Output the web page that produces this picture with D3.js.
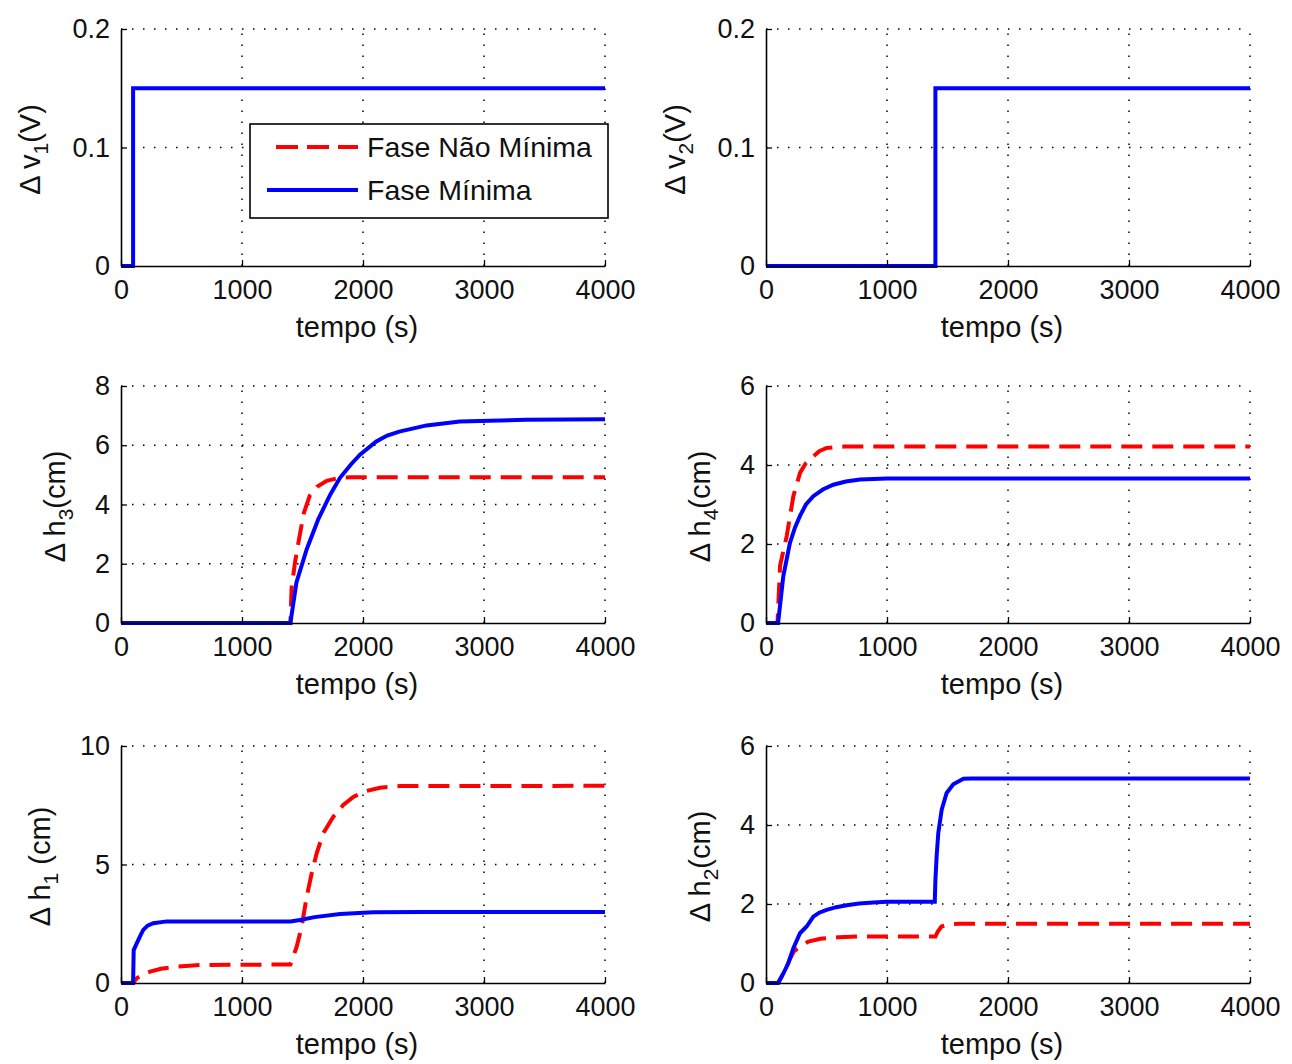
<!DOCTYPE html>
<html>
<head>
<meta charset="utf-8">
<script src="https://cdn.jsdelivr.net/npm/d3@7"></script>
<style>
  html, body { margin: 0; padding: 0; background: #fff; }
  svg { display: block; }
  text { font-family: "Liberation Sans", Arial, Helvetica, sans-serif; fill: #111; }
</style>
</head>
<body>
<div id="chart"></div>
<script>
// ---------------- DATA ----------------
const seriesNames = ["Fase Não Mínima", "Fase Mínima"];
const xTicks = [0, 1000, 2000, 3000, 4000];
const xLabel = "tempo (s)";

const vTicks = [0, 0.1, 0.2];
const h3Ticks = [0, 2, 4, 6, 8];
const h4Ticks = [0, 2, 4, 6];
const h1Ticks = [0, 5, 10];
const h2Ticks = [0, 2, 4, 6];

// Δv1 (input 1)
const v1Time = [0, 100, 100, 4000];
const v1Min  = [0, 0, 0.15, 0.15];

// Δv2 (input 2)
const v2Time = [0, 1400, 1400, 4000];
const v2Min  = [0, 0, 0.15, 0.15];

// Δh3
const h3NmpTime = [0, 1400, 1410, 1440, 1470, 1510, 1560, 1620, 1700, 1800, 1900, 4000];
const h3NmpVal  = [0, 0, 1.2, 2.1, 2.8, 3.7, 4.3, 4.6, 4.8, 4.9, 4.92, 4.92];
const h3MinTime = [0, 1400, 1450, 1535, 1630, 1730, 1810, 1900, 1975, 2110, 2200, 2300, 2525, 2800, 3350, 4000];
const h3MinVal  = [0, 0, 1.37, 2.49, 3.5, 4.34, 4.9, 5.35, 5.68, 6.13, 6.33, 6.46, 6.67, 6.8, 6.86, 6.88];

// Δh4
const h4NmpTime = [0, 95, 116, 171, 226, 281, 330, 391, 440, 501, 650, 4000];
const h4NmpVal  = [0, 0, 1.45, 2.2, 3.21, 3.8, 4.05, 4.22, 4.35, 4.43, 4.47, 4.47];
const h4MinTime = [0, 100, 143, 198, 240, 281, 330, 391, 470, 556, 660, 777, 1000, 4000];
const h4MinVal  = [0, 0, 1.19, 2.03, 2.42, 2.71, 3.0, 3.21, 3.38, 3.5, 3.58, 3.63, 3.66, 3.66];

// Δh1
const h1NmpTime = [0, 100, 130, 180, 240, 330, 460, 653, 1400, 1452, 1493, 1535, 1576, 1617, 1672, 1755, 1837, 1920, 2003, 2140, 2306, 4000];
const h1NmpVal  = [0, 0, 0.2, 0.35, 0.48, 0.6, 0.69, 0.76, 0.78, 1.53, 2.38, 3.64, 4.63, 5.47, 6.32, 7.02, 7.51, 7.85, 8.07, 8.24, 8.31, 8.32];
const h1MinTime = [0, 100, 105, 130, 160, 184, 220, 267, 378, 1400, 1479, 1600, 1810, 2085, 2500, 4000];
const h1MinVal  = [0, 0, 1.39, 1.67, 2.0, 2.24, 2.42, 2.52, 2.6, 2.6, 2.66, 2.78, 2.91, 2.98, 3.0, 3.0];

// Δh2
const h2NmpTime = [0, 100, 150, 200, 230, 260, 300, 350, 450, 600, 800, 1400, 1420, 1450, 1500, 1600, 4000];
const h2NmpVal  = [0, 0, 0.27, 0.62, 0.8, 0.87, 0.95, 1.05, 1.12, 1.16, 1.18, 1.18, 1.3, 1.43, 1.48, 1.5, 1.5];
const h2MinTime = [0, 100, 143, 184, 226, 281, 336, 391, 440, 501, 580, 667, 770, 887, 1000, 1395, 1400, 1410, 1424, 1452, 1493, 1548, 1631, 1700, 4000];
const h2MinVal  = [0, 0, 0.24, 0.5, 0.88, 1.26, 1.43, 1.68, 1.78, 1.85, 1.92, 1.97, 2.01, 2.04, 2.06, 2.06, 2.6, 3.2, 3.8, 4.39, 4.81, 5.03, 5.17, 5.18, 5.18];

// ---------------- LAYOUT / STYLE ----------------
const W = 1292, H = 1064;
const colX = [121, 766];
const rowY = [29, 386, 746];
const plotW = 484, plotH = 237;
const TICK_FONT = 27;
const LABEL_FONT = 29;
const LEGEND_FONT = 28.5;

const styles = {
  nmp: { color: "#ff0000", width: 4, dash: "21,10" },
  min: { color: "#0000ff", width: 4, dash: null }
};

const zip = (t, v) => t.map((d, i) => [d, v[i]]);

const panels = [
  { col: 0, row: 0, domain: [0, 0.2], ticks: vTicks, sym: "v", sub: "1", unit: "(V)", labelX: 40,
    series: [{ kind: "min", data: zip(v1Time, v1Min) }], legend: true },
  { col: 1, row: 0, domain: [0, 0.2], ticks: vTicks, sym: "v", sub: "2", unit: "(V)", labelX: 685,
    series: [{ kind: "min", data: zip(v2Time, v2Min) }] },
  { col: 0, row: 1, domain: [0, 8], ticks: h3Ticks, sym: "h", sub: "3", unit: "(cm)", labelX: 65,
    series: [{ kind: "nmp", data: zip(h3NmpTime, h3NmpVal) }, { kind: "min", data: zip(h3MinTime, h3MinVal) }] },
  { col: 1, row: 1, domain: [0, 6], ticks: h4Ticks, sym: "h", sub: "4", unit: "(cm)", labelX: 710,
    series: [{ kind: "nmp", data: zip(h4NmpTime, h4NmpVal) }, { kind: "min", data: zip(h4MinTime, h4MinVal) }] },
  { col: 0, row: 2, domain: [0, 10], ticks: h1Ticks, sym: "h", sub: "1", unit: " (cm)", labelX: 50,
    series: [{ kind: "nmp", data: zip(h1NmpTime, h1NmpVal) }, { kind: "min", data: zip(h1MinTime, h1MinVal) }] },
  { col: 1, row: 2, domain: [0, 6], ticks: h2Ticks, sym: "h", sub: "2", unit: "(cm)", labelX: 710,
    series: [{ kind: "nmp", data: zip(h2NmpTime, h2NmpVal) }, { kind: "min", data: zip(h2MinTime, h2MinVal) }] }
];

// ---------------- DRAW ----------------
const svg = d3.select("#chart").append("svg")
  .attr("width", W).attr("height", H)
  .attr("viewBox", `0 0 ${W} ${H}`);
svg.append("rect").attr("width", W).attr("height", H).attr("fill", "#fff");

const fmt = d3.format("~g");

panels.forEach(p => {
  const x0 = colX[p.col], y0 = rowY[p.row];
  const x = d3.scaleLinear().domain([0, 4000]).range([0, plotW]);
  const y = d3.scaleLinear().domain(p.domain).range([plotH, 0]);
  const g = svg.append("g").attr("transform", `translate(${x0},${y0})`);

  // grid (dotted)
  const grid = g.append("g").attr("stroke", "#000").attr("stroke-width", 1.5)
    .attr("stroke-dasharray", "1.5,9.5").attr("fill", "none");
  grid.selectAll("line.gx").data(xTicks.filter(d => d > 0)).join("line")
    .attr("x1", d => x(d)).attr("x2", d => x(d)).attr("y1", plotH).attr("y2", 0);
  grid.selectAll("line.gy").data(p.ticks.filter(d => d > p.domain[0])).join("line")
    .attr("x1", 0).attr("x2", plotW).attr("y1", d => y(d)).attr("y2", d => y(d));

  // series
  const line = d3.line().x(d => x(d[0])).y(d => y(d[1]));
  p.series.forEach(s => {
    const st = styles[s.kind];
    g.append("path").datum(s.data)
      .attr("d", line)
      .attr("fill", "none")
      .attr("stroke", st.color)
      .attr("stroke-width", st.width)
      .attr("stroke-dasharray", st.dash)
      .attr("stroke-linejoin", "miter");
  });

  // axes
  const xAxis = d3.axisBottom(x).tickValues(xTicks).tickFormat(fmt)
    .tickSizeInner(-6).tickSizeOuter(0).tickPadding(14);
  const yAxis = d3.axisLeft(y).tickValues(p.ticks).tickFormat(fmt)
    .tickSizeInner(-6).tickSizeOuter(0).tickPadding(11);

  const gx = g.append("g").attr("transform", `translate(0,${plotH})`).call(xAxis);
  const gy = g.append("g").call(yAxis);
  [gx, gy].forEach(a => {
    a.select(".domain").attr("stroke", "#000").attr("stroke-width", 1.6);
    a.selectAll(".tick line").attr("stroke", "#000").attr("stroke-width", 1.3);
    a.selectAll(".tick text").attr("font-size", TICK_FONT)
      .attr("font-family", "'Liberation Sans', Arial, sans-serif").attr("fill", "#111");
  });

  // x label
  g.append("text")
    .attr("x", 236).attr("y", plotH + 71)
    .attr("text-anchor", "middle")
    .attr("font-size", LABEL_FONT)
    .text(xLabel);

  // y label (rotated)
  const yl = svg.append("text")
    .attr("transform", `translate(${p.labelX},${y0 + plotH / 2 + 2}) rotate(-90)`)
    .attr("text-anchor", "middle")
    .attr("font-size", LABEL_FONT);
  yl.append("tspan").text("\u0394 " + p.sym);
  yl.append("tspan").attr("font-size", 21).attr("dy", 8).text(p.sub);
  yl.append("tspan").attr("dy", -8).text(p.unit);

  // legend
  if (p.legend) {
    const lg = svg.append("g").attr("transform", "translate(250,124)");
    lg.append("rect").attr("width", 358).attr("height", 94)
      .attr("fill", "#fff").attr("stroke", "#000").attr("stroke-width", 1.6);
    const entries = [
      { name: seriesNames[0], st: styles.nmp, y: 23, xs: 26 },
      { name: seriesNames[1], st: styles.min, y: 66, xs: 17 }
    ];
    entries.forEach(e => {
      lg.append("line").attr("x1", e.xs).attr("x2", 108).attr("y1", e.y).attr("y2", e.y)
        .attr("stroke", e.st.color).attr("stroke-width", e.st.width)
        .attr("stroke-dasharray", e.st.dash ? "22,9" : null);
      lg.append("text").attr("x", 117).attr("y", e.y + 10)
        .attr("font-size", LEGEND_FONT).text(e.name);
    });
  }
});
</script>
</body>
</html>
